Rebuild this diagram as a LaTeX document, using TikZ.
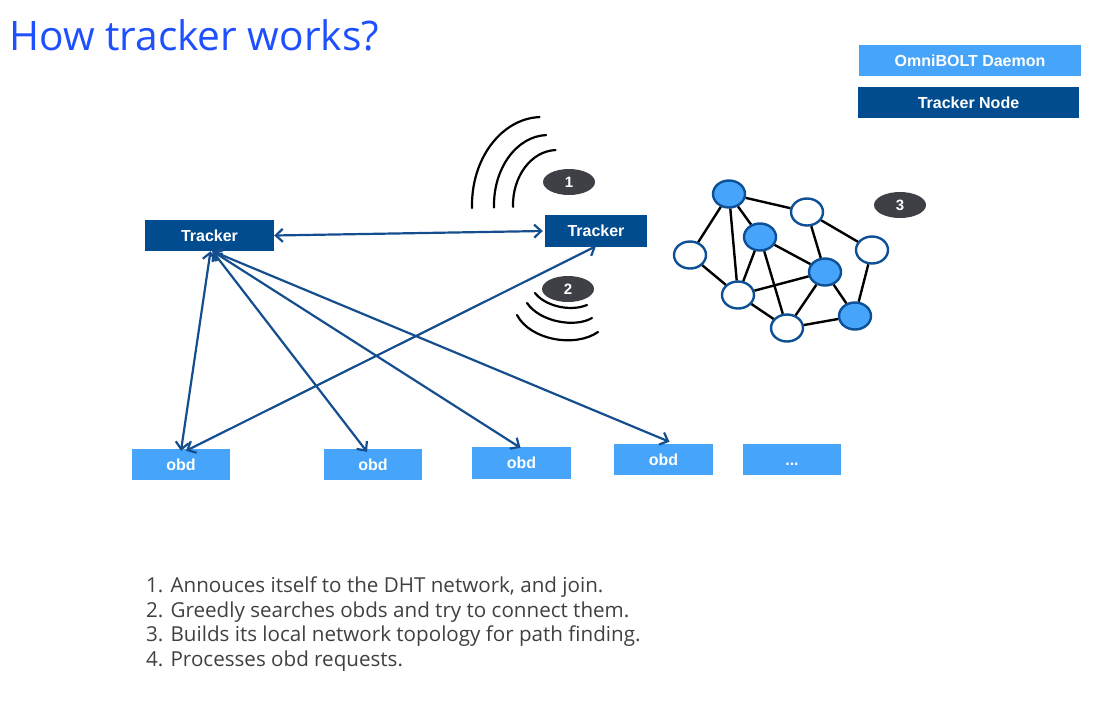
\documentclass[tikz,border=0pt]{standalone}
\usepackage{fontspec}
\setmainfont{Liberation Sans}
\newfontfamily\bodyfont{Open Sans}
\usetikzlibrary{arrows.meta,shapes.geometric}

\definecolor{titleblue}{RGB}{30,80,255}
\definecolor{daemonblue}{RGB}{70,165,250}
\definecolor{trackerblue}{RGB}{0,76,142}
\definecolor{linkblue}{RGB}{20,78,142}
\definecolor{badgegray}{RGB}{62,64,69}
\definecolor{peerline}{RGB}{14,80,150}
\definecolor{stepgray}{RGB}{64,64,64}

\begin{document}
\begin{tikzpicture}[x=1pt,y=-1pt,
  boxlabel/.style={text=white, font=\bfseries\fontsize{16}{18}\selectfont, inner sep=0pt,
    text height=11.5pt, text depth=0pt},
  daemonbox/.style={boxlabel, fill=daemonblue},
  trackerbox/.style={boxlabel, fill=trackerblue},
  link/.style={draw=linkblue, line width=2.2pt,
    {Straight Barb[length=7pt,width=13pt]}-{Straight Barb[length=7pt,width=13pt]}},
  badge/.style={ellipse, fill=badgegray, text=white, inner sep=0pt,
    minimum width=52pt, minimum height=26pt, font=\bfseries\fontsize{15}{17}\selectfont},
  peer/.style={ellipse, draw=peerline, line width=2.4pt, fill=white, inner sep=0pt,
    minimum width=32pt, minimum height=27pt},
  hub/.style={peer, fill=daemonblue},
  edge/.style={draw=black, line width=2.4pt},
  wave/.style={draw=black, line width=2.2pt, line cap=round}
]
\useasboundingbox (0,0) rectangle (1099,713);

% title
\node[anchor=base west, inner sep=0pt, text=titleblue,
  font=\bodyfont\fontsize{40.7}{46}\selectfont] (title) at (9,50) {How tracker works?};

% legend
\node[daemonbox, minimum width=222pt, minimum height=31pt] (legd) at (970,60.5) {OmniBOLT Daemon};
\node[trackerbox, minimum width=221pt, minimum height=31pt] (legt) at (968.5,102.5) {Tracker Node};

% trackers
\node[trackerbox, minimum width=129pt, minimum height=31pt] (tl) at (209.5,235.5) {Tracker};
\node[trackerbox, minimum width=102pt, minimum height=32pt] (tr) at (596,231) {Tracker};

% obd daemons
\node[daemonbox, minimum width=98pt, minimum height=31pt] (o1) at (181,464.5) {obd};
\node[daemonbox, minimum width=98pt, minimum height=31pt] (o2) at (373,464.5) {obd};
\node[daemonbox, minimum width=99pt, minimum height=32pt] (o3) at (521.5,463) {obd};
\node[daemonbox, minimum width=99pt, minimum height=31pt] (o4) at (663.5,459.5) {obd};
\node[daemonbox, minimum width=98pt, minimum height=31pt] (o5) at (792,459.5) {...};

% links
\draw[link] (tl.east) -- ([xshift=-2pt]tr.west);
\draw[link] ([xshift=1pt]tl.south) -- ([yshift=-2pt]o1.north);
\draw[link] ([xshift=3pt]tl.south) -- ([xshift=-6pt,yshift=-3pt]o2.north);
\draw[link] ([xshift=3pt]tl.south) -- ([xshift=-1pt,yshift=-1pt]o3.north);
\draw[link] ([xshift=3pt]tl.south) -- ([xshift=6pt,yshift=2pt]o4.north);
\draw[link] ([xshift=5pt,yshift=-2pt]o1.north) -- ([yshift=1pt]tr.south);

% step badges
\node[badge] (b1) at (569,182) {1};
\node[badge] (b2) at (568,289) {2};
\node[badge] (b3) at (900,205) {3};

% broadcast waves of step 1
\draw[wave] ([shift={(178:70 and 88)}]542,205) arc[start angle=178, end angle=268, x radius=70, y radius=88];
\draw[wave] ([shift={(178:54 and 70)}]548,205) arc[start angle=178, end angle=268, x radius=54, y radius=70];
\draw[wave] ([shift={(178:44 and 55)}]557,205) arc[start angle=178, end angle=268, x radius=44, y radius=55];

% search waves of step 2
\draw[wave] (535,293) .. controls (545,306) and (570,312) .. (587,305);
\draw[wave] (527,303) .. controls (540,322) and (575,328) .. (592,318);
\draw[wave] (517,315) .. controls (530,340) and (575,348) .. (598,332);

% local topology
\node[hub]  (na) at (729,194) {};
\node[peer] (nb) at (807,212) {};
\node[hub]  (nc) at (760,237) {};
\node[peer] (nd) at (690,255) {};
\node[peer] (ne) at (872,250) {};
\node[hub]  (nf) at (825,272) {};
\node[peer] (ng) at (738,295) {};
\node[peer] (nh) at (787,328) {};
\node[hub]  (ni) at (855,316) {};
\foreach \u/\v in {na/nb, na/nc, na/nd, na/ng, nd/ng, nc/nf, nc/ng, nc/nh,
                   nb/nf, nb/ne, ne/ni, nf/ng, nf/nh, nf/ni, ng/nh, nh/ni}
  \draw[edge] (\u) -- (\v);

% steps
\node[anchor=north west, align=left, inner sep=0pt, text=stepgray,
  font=\bodyfont\fontsize{20.6}{24.7}\selectfont] (steps) at (146,576.5)
  {1. Annouces itself to the DHT network, and join.\\
   2. Greedly searches obds and try to connect them.\\
   3. Builds its local network topology for path finding.\\
   4. Processes obd requests.};
\end{tikzpicture}
\end{document}
